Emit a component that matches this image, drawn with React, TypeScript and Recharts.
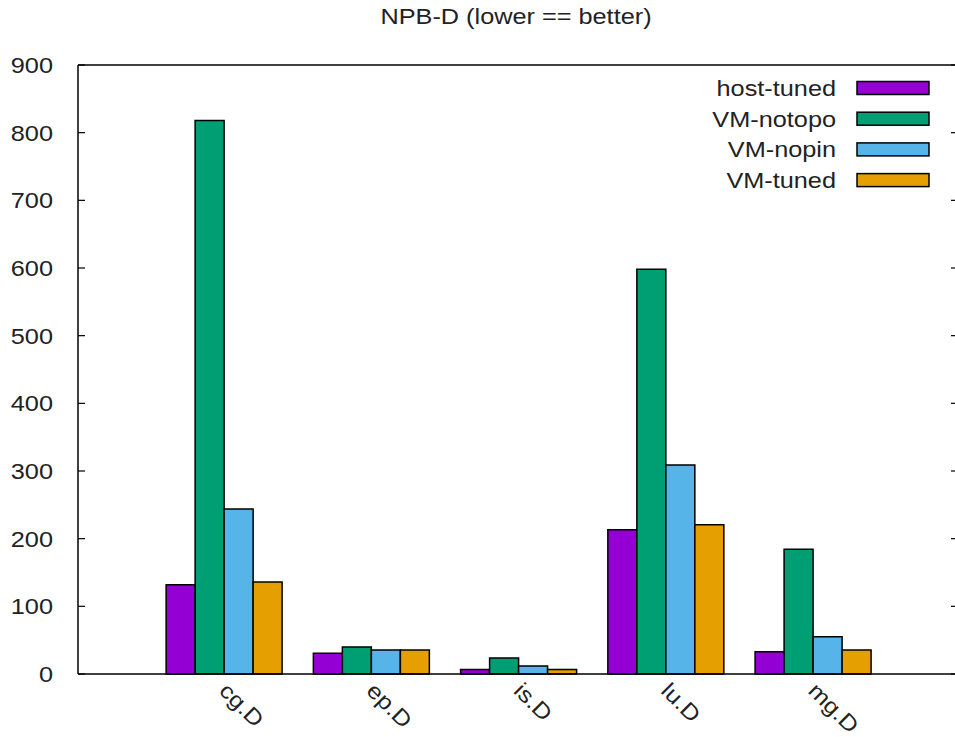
import React from "react";
import { BarChart, Bar, XAxis, YAxis, ReferenceLine } from "recharts";

const benchmarks = ["cg.D", "ep.D", "is.D", "lu.D", "mg.D"];
const hostTuned = [132, 30.5, 6.5, 213, 33];
const vmNotopo = [818, 40, 23.5, 598, 184.5];
const vmNopin = [244, 35.5, 12, 309, 55];
const vmTuned = [136, 35.5, 6.5, 220.5, 35.5];
const yTicks = [0, 100, 200, 300, 400, 500, 600, 700, 800, 900];

const series = [
  { key: "hostTuned", name: "host-tuned", color: "#9400d3" },
  { key: "vmNotopo", name: "VM-notopo", color: "#009e73" },
  { key: "vmNopin", name: "VM-nopin", color: "#56b4e9" },
  { key: "vmTuned", name: "VM-tuned", color: "#e69f00" },
];

const data = benchmarks.map((name, i) => ({
  name,
  hostTuned: hostTuned[i],
  vmNotopo: vmNotopo[i],
  vmNopin: vmNopin[i],
  vmTuned: vmTuned[i],
}));

// gnuplot png output looks horizontally stretched, so text gets a little x scale
const FONT = '"Liberation Sans", Arial, sans-serif';
const SX = 1.15;
const PLOT_LEFT = 78;
const PLOT_RIGHT = 958;

// left tick label plus inward ticks on both borders (gnuplot mirrors them)
const YTick = (props: any) => {
  const { y, payload } = props;
  return (
    <g>
      <line x1={PLOT_LEFT} x2={PLOT_LEFT + 7} y1={y} y2={y} stroke="#000" strokeWidth={1.2} />
      <line x1={PLOT_RIGHT - 7} x2={PLOT_RIGHT} y1={y} y2={y} stroke="#000" strokeWidth={1.2} />
      <text
        transform={`translate(53 ${y}) scale(${SX} 1)`}
        textAnchor="end"
        dy="0.358em"
        fontSize={22}
        fontFamily={FONT}
        fill="#222"
      >
        {payload.value}
      </text>
    </g>
  );
};

const XTick = (props: any) => {
  const { x, payload } = props;
  return (
    <text
      transform={`translate(${x - 7} 692) rotate(45) scale(${SX} 1)`}
      textAnchor="start"
      fontSize={22}
      fontFamily={FONT}
      fill="#222"
    >
      {payload.value}
    </text>
  );
};

const Overlay = () => (
  <svg
    width={955}
    height={737}
    style={{ position: "absolute", left: 0, top: 0, pointerEvents: "none" }}
  >
    <text
      transform={`translate(516 24) scale(${SX} 1)`}
      textAnchor="middle"
      fontSize={22}
      fontFamily={FONT}
      fill="#222"
    >
      NPB-D (lower == better)
    </text>
    {series.map((s, i) => {
      const cy = 88 + i * 30.7;
      return (
        <g key={s.key}>
          <text
            transform={`translate(836 ${cy}) scale(${SX} 1)`}
            textAnchor="end"
            dy="0.358em"
            fontSize={22}
            fontFamily={FONT}
            fill="#222"
          >
            {s.name}
          </text>
          <rect x={857} y={cy - 6.5} width={72} height={13} fill={s.color} stroke="#000" strokeWidth={1.5} />
        </g>
      );
    })}
  </svg>
);

const App: React.FC = () => {
  return (
    <div
      style={{
        position: "absolute",
        left: 0,
        top: 0,
        width: 955,
        height: 737,
        overflow: "hidden",
        background: "#fff",
      }}
    >
      <BarChart
        width={970}
        height={737}
        data={data}
        margin={{ top: 65, right: 970 - PLOT_RIGHT, left: 0, bottom: 0 }}
        barCategoryGap="10%"
        barGap={0}
      >
        <XAxis
          dataKey="name"
          height={63}
          interval={0}
          tickLine={false}
          axisLine={{ stroke: "#000", strokeWidth: 1.5 }}
          padding={{ left: 73.4, right: 70.4 }}
          tick={<XTick />}
        />
        <YAxis
          yAxisId="left"
          width={PLOT_LEFT}
          domain={[0, 900]}
          ticks={yTicks}
          tickLine={false}
          axisLine={{ stroke: "#000", strokeWidth: 1.5 }}
          tick={<YTick />}
        />
        <ReferenceLine yAxisId="left" y={900} stroke="#000" strokeWidth={1.5} />
        {series.map((s) => (
          <Bar
            key={s.key}
            yAxisId="left"
            dataKey={s.key}
            name={s.name}
            fill={s.color}
            stroke="#000"
            strokeWidth={1.5}
            isAnimationActive={false}
          />
        ))}
      </BarChart>
      <Overlay />
    </div>
  );
};

export default App;
